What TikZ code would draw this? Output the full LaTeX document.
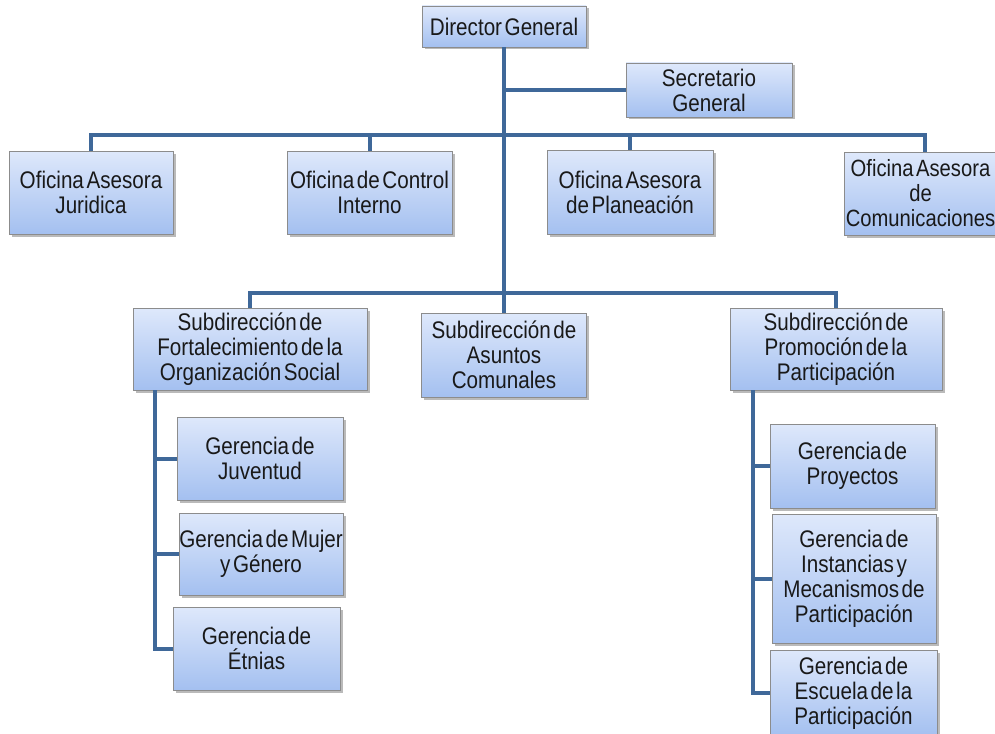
\documentclass[tikz,border=0pt]{standalone}
\usepackage{fontspec}
\setmainfont{Liberation Sans}[FakeStretch=0.86, WordSpace=0.45]
\usetikzlibrary{shadows}
\definecolor{linec}{RGB}{63,104,153}
\definecolor{boxtop}{RGB}{222,232,251}
\definecolor{boxbot}{RGB}{164,192,240}
\definecolor{boxborder}{RGB}{140,140,140}
\definecolor{txt}{RGB}{25,25,25}
\tikzset{
  orgbox/.style={draw=boxborder, line width=0.8pt, top color=boxtop, bottom color=boxbot,
    inner sep=0pt, align=center, text=txt,
    font=\fontsize{24}{25}\selectfont,
    drop shadow={shadow xshift=2.5pt, shadow yshift=-2.5pt, opacity=0.45, fill=black!60}},
  orgtext/.style={inner sep=0pt, align=center, text=txt, font=\fontsize{23.5}{25}\selectfont},
  conn/.style={draw=linec, line width=4pt, line join=miter}
}
\begin{document}
\begin{tikzpicture}[x=1pt,y=-1pt]
\clip (0,0) rectangle (995,733);
\fill[white] (0,0) rectangle (995,733);
% nodes
\node[orgbox, minimum width=164pt, minimum height=41pt] (dg) at (504,26.5) {Director General};
\node[orgbox, minimum width=166pt, minimum height=54pt] (sg) at (709,90) {Secretario\\General};
\node[orgbox, minimum width=164pt, minimum height=83pt] (oj) at (91,192.5) {Oficina Asesora\\Juridica};
\node[orgbox, minimum width=165pt, minimum height=83pt] (oc) at (369.5,192.5) {Oficina de Control\\Interno};
\node[orgbox, minimum width=166pt, minimum height=84pt] (op) at (630,192.5) {Oficina Asesora\\de Planeación};
\node[orgbox, minimum width=162pt, minimum height=83pt] (ocom) at (925,193.5) {};
\node[orgtext] (ocomt) at (920.5,193.5) {Oficina Asesora\\de\\Comunicaciones};
\node[orgbox, minimum width=234pt, minimum height=82pt] (sf) at (250,349) {Subdirección de\\Fortalecimiento de la\\Organización Social};
\node[orgbox, minimum width=165pt, minimum height=84pt] (sa) at (504,355) {Subdirección de\\Asuntos\\Comunales};
\node[orgbox, minimum width=212pt, minimum height=82pt] (spp) at (836,349) {Subdirección de\\Promoción de la\\Participación};
\node[orgbox, minimum width=166pt, minimum height=83pt] (gj) at (260,458.5) {Gerencia de\\Juventud};
\node[orgbox, minimum width=164pt, minimum height=82pt] (gm) at (261,554) {Gerencia de Mujer\\y Género};
\node[orgbox, minimum width=167pt, minimum height=83pt] (ge) at (256.5,648.5) {Gerencia de\\Étnias};
\node[orgbox, minimum width=165pt, minimum height=84pt] (gp) at (852.5,466) {Gerencia de\\Proyectos};
\node[orgbox, minimum width=164pt, minimum height=129pt] (gi) at (854,578.5) {Gerencia de\\Instancias y\\Mecanismos de\\Participación};
\node[orgbox, minimum width=167pt, minimum height=86pt] (gesc) at (853.5,693) {Gerencia de\\Escuela de la\\Participación};
% coordinates
\coordinate (bar1) at (0,135);
\coordinate (bar2) at (0,293);
\coordinate (lx) at (155,0);
\coordinate (rx) at (753,0);
% connectors
\path[conn] (dg.south) -- (sa.north);
\path[conn] (dg.south |- sg.west) -- (sg.west);
\path[conn] (oj.north) -- (oj.north |- bar1) -- (ocom.north |- bar1) -- (ocom.north);
\path[conn] (oc.north) -- (oc.north |- bar1);
\path[conn] (op.north) -- (op.north |- bar1);
\path[conn] (sf.north) -- (sf.north |- bar2) -- (spp.north |- bar2) -- (spp.north);
\path[conn] (sf.south -| lx) -- (lx |- ge.west) -- (ge.west);
\path[conn] (lx |- gj.west) -- (gj.west);
\path[conn] (lx |- gm.west) -- (gm.west);
\path[conn] (spp.south -| rx) -- (rx |- gesc.west) -- (gesc.west);
\path[conn] (rx |- gp.west) -- (gp.west);
\path[conn] (rx |- gi.west) -- (gi.west);
\end{tikzpicture}
\end{document}
